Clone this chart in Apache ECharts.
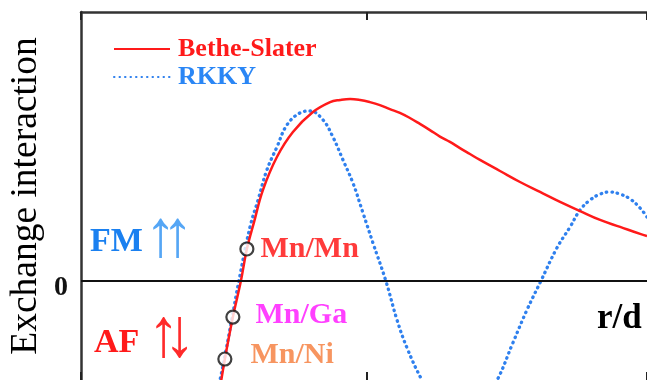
<!DOCTYPE html>
<html>
<head>
<meta charset="utf-8">
<script src="https://cdn.jsdelivr.net/npm/echarts@6/dist/echarts.min.js"></script>
<style>
  html, body { margin: 0; padding: 0; background: #fff; }
  #chart { width: 647px; height: 380px; }
</style>
</head>
<body>
<div id="chart"></div>
<script>
// Bethe-Slater curve: exchange interaction vs r/d
const betheSlaterR = [0.486, 0.503, 0.531, 0.559, 0.580, 0.605, 0.636, 0.685, 0.741, 0.811, 0.871, 0.906, 0.941, 0.976, 1.010, 1.045, 1.080, 1.115, 1.150, 1.185, 1.220, 1.255, 1.290, 1.325, 1.360, 1.395, 1.465, 1.535, 1.605, 1.675, 1.745, 1.815, 1.885, 1.955, 1.979];
const betheSlaterJ = [-0.398, -0.290, -0.134, 0.000, 0.119, 0.219, 0.338, 0.461, 0.554, 0.628, 0.665, 0.673, 0.677, 0.673, 0.665, 0.654, 0.639, 0.625, 0.606, 0.584, 0.561, 0.537, 0.517, 0.494, 0.472, 0.450, 0.409, 0.368, 0.331, 0.294, 0.260, 0.227, 0.201, 0.175, 0.167];

// RKKY oscillation: exchange interaction vs r/d
const rkkyR = [0.469, 0.486, 0.507, 0.528, 0.552, 0.591, 0.619, 0.650, 0.685, 0.720, 0.766, 0.801, 0.846, 0.881, 0.916, 0.951, 0.986, 1.021, 1.066, 1.105, 1.140, 1.192, 1.255, 1.325, 1.388, 1.455, 1.510, 1.559, 1.608, 1.664, 1.710, 1.745, 1.780, 1.815, 1.850, 1.885, 1.920, 1.955, 1.979];
const rkkyJ = [-0.442, -0.368, -0.257, -0.138, 0.000, 0.201, 0.301, 0.413, 0.498, 0.580, 0.625, 0.632, 0.599, 0.535, 0.450, 0.364, 0.253, 0.141, 0.000, -0.145, -0.249, -0.368, -0.480, -0.517, -0.480, -0.368, -0.230, -0.108, 0.000, 0.123, 0.201, 0.264, 0.301, 0.323, 0.331, 0.323, 0.305, 0.271, 0.238];

// Atom pairs placed on the Bethe-Slater curve
const pairNames = ['Mn/Mn', 'Mn/Ga', 'Mn/Ni'];
const pairR = [0.580, 0.531, 0.503];
const pairJ = [0.119, -0.134, -0.290];

// Axis ranges
const xRange = { min: 0, max: 1.979, interval: 1 };
const yRange = { min: -0.368, max: 1.0 };

const SERIF = "'Liberation Serif', 'Times New Roman', serif";
const RED = '#ff1a1a';
const BLUE = '#2f80ee';

const zip = (a, b) => a.map((v, i) => [v, b[i]]);

const pairStyle = {
  'Mn/Mn': { color: '#ff0a0a', distance: 6, offset: [0, 0] },
  'Mn/Ga': { color: '#ff10ff', distance: 15, offset: [0, -2] },
  'Mn/Ni': { color: '#f57a38', distance: 18, offset: [0, -4] }
};

// spin arrow glyphs for the FM / AF regions
const spinArrow = (glyph, x, y, sy, fill) => ({
  type: 'text', x, y, scaleX: 1.3, scaleY: sy,
  style: { text: glyph, font: '48px ' + SERIF, fill }
});

const chart = echarts.init(document.getElementById('chart'), null, { renderer: 'canvas' });

chart.setOption({
  animation: false,
  backgroundColor: '#fff',
  grid: { left: 81, top: 12, right: 0, bottom: 0, containLabel: false, outerBoundsMode: 'none' },
  legend: {
    orient: 'vertical',
    left: 108,
    top: 31,
    itemWidth: 56,
    itemHeight: 14,
    itemGap: 2,
    itemStyle: { opacity: 0 },
    textStyle: { fontFamily: SERIF, fontSize: 26, fontWeight: 'bold', lineHeight: 26, padding: [0, 0, 0, 3] },
    data: [
      { name: 'Bethe-Slater', textStyle: { color: RED } },
      { name: 'RKKY', textStyle: { color: '#2a86f5' } }
    ]
  },
  xAxis: [
    {
      type: 'value', position: 'bottom', ...xRange,
      axisLine: { show: false, onZero: false },
      axisTick: { show: true, inside: true, length: 8, lineStyle: { color: '#222', width: 2 } },
      axisLabel: { show: false },
      splitLine: { show: false }
    },
    {
      type: 'value', position: 'top', ...xRange,
      axisLine: { show: true, onZero: false, lineStyle: { color: '#333', width: 2.5 } },
      axisTick: { show: true, inside: true, length: 8, lineStyle: { color: '#222', width: 2 } },
      axisLabel: { show: false },
      splitLine: { show: false }
    }
  ],
  yAxis: {
    type: 'value', ...yRange,
    axisLine: { show: true, onZero: false, lineStyle: { color: '#333', width: 2.5 } },
    axisTick: { show: false },
    splitLine: { show: false },
    axisLabel: {
      formatter: v => (Math.abs(v) < 1e-9 ? '0' : ''),
      fontFamily: SERIF, fontSize: 28, fontWeight: 'bold', color: '#111',
      margin: 13, verticalAlign: 'top', lineHeight: 14
    },
    name: 'Exchange interaction',
    nameLocation: 'middle',
    nameGap: 36,
    nameMoveOverlap: false,
    nameTextStyle: { fontFamily: SERIF, fontSize: 37.5, color: '#000' }
  },
  series: [
    {
      name: 'RKKY',
      type: 'line',
      xAxisIndex: 0,
      data: zip(rkkyR, rkkyJ),
      smooth: 0.4,
      symbol: 'none',
      clip: true,
      lineStyle: { color: BLUE, width: 3.3, type: [0.5, 5], cap: 'round' },
      itemStyle: { color: BLUE },
      z: 2,
      markLine: {
        silent: true,
        symbol: 'none',
        label: { show: false },
        lineStyle: { color: '#111', type: 'solid', width: 2 },
        data: [{ yAxis: 0 }]
      }
    },
    {
      name: 'Bethe-Slater',
      type: 'line',
      xAxisIndex: 0,
      data: zip(betheSlaterR, betheSlaterJ),
      smooth: 0.4,
      symbol: 'none',
      clip: true,
      lineStyle: { color: RED, width: 2.5 },
      itemStyle: { color: RED },
      z: 3
    },
    {
      name: 'pairs',
      type: 'scatter',
      xAxisIndex: 0,
      symbol: 'circle',
      symbolSize: 13,
      itemStyle: { color: '#fff', borderColor: '#111', borderWidth: 2.2 },
      z: 5,
      data: pairNames.map((n, i) => ({
        name: n,
        value: [pairR[i], pairJ[i]],
        label: {
          show: true,
          position: 'right',
          formatter: n,
          distance: pairStyle[n].distance,
          offset: pairStyle[n].offset,
          color: pairStyle[n].color,
          fontFamily: SERIF,
          fontSize: 30,
          fontWeight: 'bold'
        }
      }))
    }
  ],
  graphic: [
    { type: 'text', left: 90, top: 225, style: { text: 'FM', font: 'bold 34px ' + SERIF, fill: '#1a80f0' } },
    spinArrow('\u2191', 145, 205.5, 1.39, '#55a6f5'),
    spinArrow('\u2191', 162, 205.5, 1.39, '#55a6f5'),
    { type: 'text', left: 94, top: 326, style: { text: 'AF', font: 'bold 34px ' + SERIF, fill: '#ff1a1a' } },
    spinArrow('\u2191', 148, 303, 1.45, '#ff2a2a'),
    spinArrow('\u2193', 164, 303, 1.45, '#ff2a2a'),
    { type: 'text', left: 597, top: 301, style: { text: 'r/d', font: 'bold 35px ' + SERIF, fill: '#000' } }
  ]
});
</script>
</body>
</html>
